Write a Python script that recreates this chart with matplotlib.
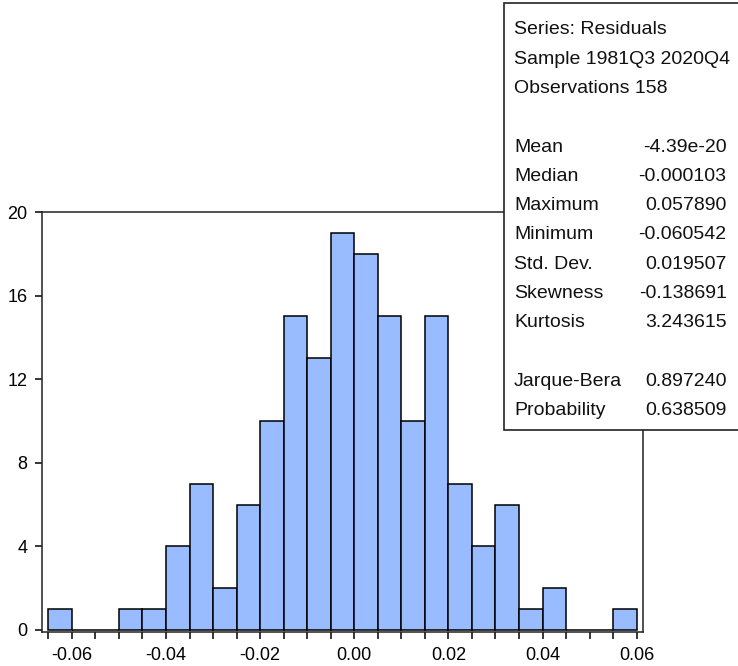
import matplotlib
matplotlib.use("Agg")
import matplotlib.pyplot as plt
from matplotlib.patches import Rectangle
import numpy as np

# ---- data ----
bin_edges = [-0.065, -0.060, -0.055, -0.050, -0.045, -0.040, -0.035, -0.030,
             -0.025, -0.020, -0.015, -0.010, -0.005, 0.000, 0.005, 0.010,
             0.015, 0.020, 0.025, 0.030, 0.035, 0.040, 0.045, 0.050, 0.055, 0.060]
counts = [1, 0, 0, 1, 1, 4, 7, 2, 6, 10, 15, 13, 19, 18, 15, 10, 15, 7, 4, 6, 1, 2, 0, 0, 1]
x_ticks = [-0.06, -0.04, -0.02, 0.00, 0.02, 0.04, 0.06]
x_tick_labels = ["-0.06", "-0.04", "-0.02", "0.00", "0.02", "0.04", "0.06"]
y_ticks = [0, 4, 8, 12, 16, 20]

header_lines = ["Series: Residuals", "Sample 1981Q3 2020Q4", "Observations 158"]
stat_names = ["Mean", "Median", "Maximum", "Minimum", "Std. Dev.", "Skewness", "Kurtosis"]
stat_values = ["-4.39e-20", "-0.000103", "0.057890", "-0.060542", "0.019507", "-0.138691", "3.243615"]
test_names = ["Jarque-Bera", "Probability"]
test_values = ["0.897240", "0.638509"]

# ---- figure ----
W, H = 738, 666
plt.rcParams['font.family'] = ['Liberation Sans', 'DejaVu Sans']
fig = plt.figure(figsize=(W / 100, H / 100), dpi=100)
ax = fig.add_axes([41.5 / W, 1 - 632 / H, (643.3 - 41.5) / W, (632 - 212) / H])

edges = np.array(bin_edges)
ax.bar(edges[:-1], counts, width=np.diff(edges), align='edge',
       color='#99BBFF', edgecolor='black', linewidth=1.1, zorder=2)

ax.set_xlim(-0.06644, 0.0614)
ax.set_ylim(-0.1, 20)
ax.set_xticks(x_ticks)
ax.set_xticklabels(x_tick_labels)
ax.set_xticks(bin_edges, minor=True)
ax.set_yticks(y_ticks)
ax.set_yticklabels([str(v) for v in y_ticks])
ax.tick_params(axis='both', which='both', direction='out', length=5, width=1.1,
               colors='black', labelsize=13)
ax.tick_params(axis='x', pad=5.5)
ax.tick_params(axis='y', pad=5)
ax.tick_params(top=False, right=False, which='both')
for s in ax.spines.values():
    s.set_linewidth(1.1)
    s.set_color('#222222')

# ---- stats box ----
box = Rectangle((504 / W, 1 - 429.5 / H), 1.0, (429.5 - 2.5) / H, transform=fig.transFigure,
                facecolor='white', edgecolor='#222222', linewidth=1.2, zorder=10,
                clip_on=False)
fig.patches.append(box)

x_left = 514 / W
x_right = 726.5 / W
y0 = 34.3
dy = 29.3
fs = 14
rows = [(t, None) for t in header_lines] + [(None, None)] + \
       list(zip(stat_names, stat_values)) + [(None, None)] + list(zip(test_names, test_values))
for i, (name, val) in enumerate(rows):
    yy = 1 - (y0 + i * dy) / H
    if name is not None:
        fig.text(x_left, yy, name, ha='left', va='baseline', fontsize=fs,
                 color='#111111', zorder=11)
    if val is not None:
        fig.text(x_right, yy, val, ha='right', va='baseline', fontsize=fs,
                 color='#111111', zorder=11)

fig.savefig("out.png", dpi=100)
